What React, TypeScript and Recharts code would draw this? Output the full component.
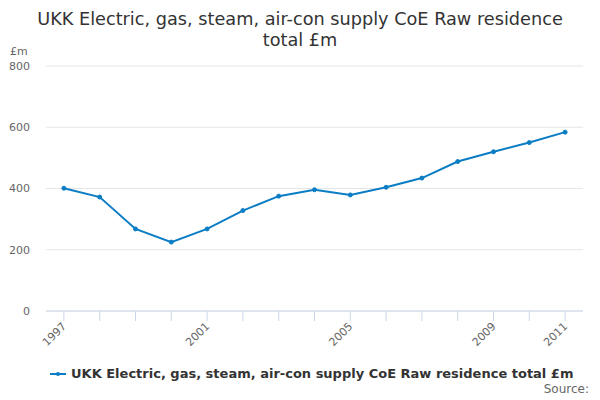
import React from "react";
import {
  LineChart,
  Line,
  XAxis,
  YAxis,
  CartesianGrid,
} from "recharts";

const YEARS = [
  "1997", "1998", "1999", "2000", "2001", "2002", "2003", "2004",
  "2005", "2006", "2007", "2008", "2009", "2010", "2011",
];
const VALUES = [401, 372, 268, 225, 268, 328, 375, 396, 379, 404, 434, 488, 520, 550, 584];
const Y_TICKS = [0, 200, 400, 600, 800];
const LABELLED_YEARS = ["1997", "2001", "2005", "2009", "2011"];

const TITLE_LINES = ["UKK Electric, gas, steam, air-con supply CoE Raw residence", "total £m"];
const SERIES_NAME = "UKK Electric, gas, steam, air-con supply CoE Raw residence total £m";
const LINE_COLOR = "#0b7dc4";
const FONT = "'DejaVu Sans', sans-serif";

const data = YEARS.map((year, i) => ({ year, value: VALUES[i] }));

// rotated year label, only for some of the ticks
const YearTick = (props: any) => {
  const { x, y, payload } = props;
  if (!LABELLED_YEARS.includes(payload.value)) return null;
  return (
    <text
      x={x + 3}
      y={y + 4}
      transform={`rotate(-45 ${x + 3} ${y + 4})`}
      textAnchor="end"
      fontSize={11}
      fill="#666"
      fontFamily={FONT}
    >
      {payload.value}
    </text>
  );
};

const App: React.FC = () => {
  return (
    <div
      style={{
        position: "absolute",
        left: 0,
        top: 0,
        width: 600,
        height: 400,
        background: "#fff",
        fontFamily: FONT,
      }}
    >
      {/* Title */}
      <div
        style={{
          position: "absolute",
          top: 9,
          left: 0,
          width: 600,
          textAlign: "center",
          fontSize: 17.7,
          lineHeight: "21px",
          color: "#333",
          whiteSpace: "nowrap",
        }}
      >
        {TITLE_LINES.map((t) => (
          <div key={t}>{t}</div>
        ))}
      </div>
      <div style={{ position: "absolute", top: 45, left: 10, fontSize: 11, color: "#666" }}>
        £m
      </div>

      <LineChart
        width={600}
        height={400}
        data={data}
        margin={{ top: 66, right: 17, bottom: 39, left: 0 }}
      >
        <CartesianGrid vertical={false} stroke="#e6e6e6" />
        <XAxis
          dataKey="year"
          scale="band"
          interval={0}
          height={50}
          tickSize={10}
          stroke="#ccd6eb"
          tick={<YearTick />}
        />
        <YAxis
          width={46}
          domain={[0, 800]}
          ticks={Y_TICKS}
          axisLine={false}
          tickLine={false}
          tickMargin={10}
          tick={{ fontSize: 11, fill: "#666", fontFamily: FONT }}
        />
        <Line
          dataKey="value"
          stroke={LINE_COLOR}
          strokeWidth={2}
          dot={{ r: 2, fill: LINE_COLOR, stroke: LINE_COLOR, strokeWidth: 1 }}
          isAnimationActive={false}
        />
      </LineChart>

      {/* Legend */}
      <div
        style={{
          position: "absolute",
          top: 366,
          left: 50,
          display: "flex",
          alignItems: "center",
          fontSize: 13,
          fontWeight: "bold",
          color: "#333",
        }}
      >
        <svg width={16} height={10} style={{ marginRight: 5 }}>
          <line x1={0} y1={5} x2={16} y2={5} stroke={LINE_COLOR} strokeWidth={2} />
          <circle cx={8} cy={5} r={2} fill={LINE_COLOR} />
        </svg>
        {SERIES_NAME}
      </div>
      <div
        style={{
          position: "absolute",
          top: 382,
          right: 11,
          fontSize: 12,
          color: "#666",
        }}
      >
        Source:
      </div>
    </div>
  );
};

export default App;
